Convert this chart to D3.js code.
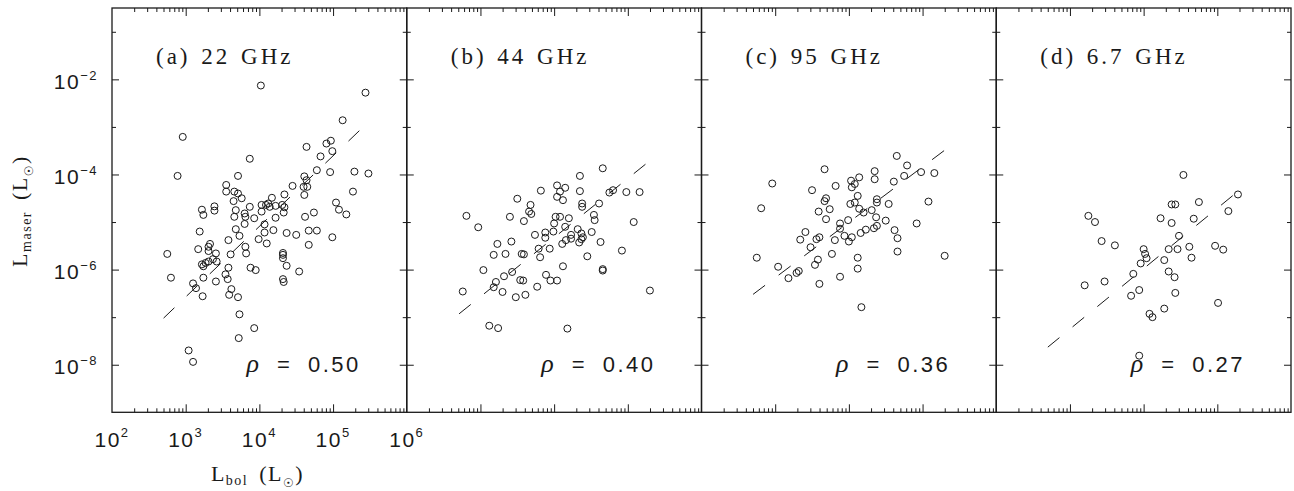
<!DOCTYPE html>
<html><head><meta charset="utf-8">
<script src="https://cdn.jsdelivr.net/npm/d3@7"></script>
<style>body{margin:0;background:#fff}svg{display:block}</style>
</head><body><svg id="c" width="1294" height="491"></svg>
<script>
// ---- data (log10 values) ----
const panelTitles = ["(a) 22 GHz", "(b) 44 GHz", "(c) 95 GHz", "(d) 6.7 GHz"];
const rhoLabels = ["0.50", "0.40", "0.36", "0.27"];
const xTickExps = [2, 3, 4, 5, 6];
const yTickExps = [-8, -6, -4, -2];

const logLbolA = [4.02,5.44,2.96,5.13,4.64,4.91,4.97,4.99,4.83,3.87,2.89,3.71,4.78,4.96,5.29,5.48,4.61,4.64,4.60,4.65,4.61,4.45,3.55,3.55,3.66,3.71,3.76,3.65,4.17,4.34,5.27,5.04,5.08,5.18,3.22,3.24,3.39,3.39,3.68,3.87,3.80,3.81,3.66,4.03,4.09,4.12,4.14,4.22,4.31,4.34,4.03,4.33,3.93,4.22,3.80,4.07,4.62,4.74,3.19,3.68,3.73,4.07,4.19,4.37,4.50,4.67,4.78,4.99,4.67,3.58,3.99,4.10,3.33,3.31,3.17,3.31,3.61,3.81,3.82,2.75,3.41,3.37,3.31,3.27,3.22,3.42,3.24,3.58,3.88,3.95,4.32,4.32,4.32,4.37,4.54,2.80,3.24,3.41,3.54,3.57,4.32,4.33,3.10,3.14,3.23,3.62,3.59,3.71,3.73,3.93,3.72,3.04,3.10];
const logLmaserA = [-2.13,-2.28,-3.21,-2.86,-3.42,-3.35,-3.29,-3.51,-3.62,-3.67,-4.03,-4.03,-3.91,-3.95,-3.94,-3.98,-4.04,-4.12,-4.26,-4.26,-4.43,-4.24,-4.22,-4.36,-4.36,-4.40,-4.50,-4.56,-4.49,-4.42,-4.36,-4.59,-4.74,-4.84,-4.74,-4.85,-4.67,-4.76,-4.75,-4.68,-4.82,-4.89,-4.89,-4.64,-4.64,-4.61,-4.68,-4.66,-4.64,-4.69,-4.78,-4.80,-4.92,-4.91,-5.04,-5.05,-4.89,-4.80,-5.20,-5.15,-5.29,-5.22,-5.17,-5.23,-5.27,-5.18,-5.18,-5.32,-5.48,-5.38,-5.36,-5.45,-5.46,-5.52,-5.57,-5.61,-5.68,-5.52,-5.66,-5.67,-5.66,-5.78,-5.83,-5.86,-5.89,-5.83,-5.93,-5.96,-5.96,-6.01,-5.65,-5.69,-5.76,-5.92,-6.04,-6.17,-6.17,-6.25,-6.10,-6.20,-6.20,-6.26,-6.29,-6.39,-6.56,-6.41,-6.53,-6.58,-6.94,-7.23,-7.44,-7.70,-7.94];

const logLbolB = [4.66,4.35,3.82,4.04,4.15,4.08,4.04,4.12,4.35,3.50,4.75,4.80,4.98,5.16,3.68,3.66,3.69,4.38,4.38,4.61,2.81,3.40,3.59,4.02,4.08,4.20,4.54,4.55,5.08,2.97,4.00,4.15,4.32,4.37,3.99,3.88,3.88,3.74,4.51,4.23,4.23,4.39,4.37,4.16,4.11,4.34,4.63,3.23,3.42,3.79,3.94,4.92,3.18,3.34,3.56,3.59,3.81,4.45,3.04,3.32,3.43,4.12,4.66,4.66,3.54,3.58,3.89,3.95,4.04,3.21,3.18,3.77,2.76,3.30,3.48,3.61,5.30,3.12,3.24,4.18];
const logLmaserB = [-3.87,-4.03,-4.34,-4.23,-4.28,-4.36,-4.47,-4.54,-4.35,-4.51,-4.38,-4.33,-4.37,-4.37,-4.64,-4.78,-4.83,-4.61,-4.68,-4.61,-4.87,-4.89,-4.98,-4.89,-4.89,-4.92,-4.85,-4.96,-5.00,-5.11,-5.03,-5.10,-5.15,-5.24,-5.20,-5.22,-5.33,-5.27,-5.21,-5.27,-5.35,-5.32,-5.36,-5.38,-5.46,-5.43,-5.42,-5.46,-5.41,-5.56,-5.56,-5.60,-5.69,-5.67,-5.67,-5.68,-5.74,-5.72,-6.01,-6.14,-6.05,-5.93,-5.99,-6.02,-6.22,-6.23,-6.11,-6.23,-6.23,-6.26,-6.37,-6.36,-6.46,-6.47,-6.58,-6.53,-6.44,-7.18,-7.23,-7.24];

const logLbolC = [4.65,4.79,4.98,5.16,4.75,3.67,4.35,4.35,4.14,4.03,4.08,4.04,4.61,2.96,3.50,3.82,4.12,3.69,3.67,4.38,4.38,4.54,5.08,4.02,4.08,2.81,3.74,3.59,4.14,4.20,4.31,3.69,4.37,3.99,4.50,4.92,3.88,3.88,4.38,4.34,4.23,4.16,4.62,4.66,3.41,3.34,3.56,3.60,3.81,3.94,4.04,4.00,3.48,2.75,3.77,4.12,4.66,5.30,3.58,3.54,3.04,3.32,3.29,3.18,4.12,3.88,3.60,4.17];
const logLmaserC = [-3.61,-3.81,-3.95,-3.97,-4.03,-3.89,-3.93,-4.10,-4.06,-4.13,-4.20,-4.27,-4.15,-4.19,-4.33,-4.24,-4.45,-4.50,-4.56,-4.52,-4.59,-4.62,-4.57,-4.62,-4.59,-4.71,-4.73,-4.78,-4.72,-4.80,-4.75,-4.94,-4.90,-4.96,-4.97,-5.03,-5.03,-5.14,-5.08,-5.13,-5.16,-5.23,-5.17,-5.34,-5.21,-5.37,-5.36,-5.32,-5.38,-5.29,-5.32,-5.41,-5.53,-5.75,-5.67,-5.75,-5.62,-5.71,-5.79,-5.90,-5.94,-6.03,-6.07,-6.18,-5.98,-6.15,-6.30,-6.79];

const logLbolD = [4.54,5.28,4.75,4.38,4.43,5.15,3.25,3.34,4.23,4.38,4.68,4.48,3.43,3.61,4.00,4.02,4.04,4.34,4.46,4.62,4.97,5.08,4.65,3.96,4.28,4.34,4.42,3.86,3.20,3.47,3.94,3.83,4.43,5.01,4.28,4.08,4.12,3.94];
const logLmaserD = [-4.01,-4.42,-4.58,-4.63,-4.63,-4.77,-4.87,-5.00,-4.92,-5.02,-4.93,-5.29,-5.40,-5.49,-5.57,-5.67,-5.76,-5.57,-5.57,-5.52,-5.50,-5.58,-5.75,-5.87,-5.80,-6.04,-6.16,-6.09,-6.33,-6.25,-6.43,-6.55,-6.49,-6.70,-6.82,-6.93,-7.00,-7.81];

// fitted relations: end points (log10)
const fitLogLbol = [[2.70, 5.39], [2.71, 5.30], [2.70, 5.36], [2.70, 5.26]];
const fitLogLmaser = [[-7.02, -3.03], [-6.93, -3.71], [-6.52, -3.42], [-7.63, -4.38]];

const seriesX = [logLbolA, logLbolB, logLbolC, logLbolD];
const seriesY = [logLmaserA, logLmaserB, logLmaserC, logLmaserD];

// ---- layout ----
const svg = d3.select("#c");
const left0 = 112, panelW = 294.75, plotTop = 8, plotBottom = 412.3;
const ink = "#1a1a1a";
const serif = "'Liberation Serif','Times New Roman',serif";
const sans = "'Liberation Sans',Arial,sans-serif";

const yScale = d3.scaleLog().domain([1e-9, Math.pow(10, -0.5)]).range([plotBottom, plotTop]);

const xMinor = [];
for (let e = 2; e < 6; e++) for (let m = 2; m <= 9; m++) xMinor.push(m * Math.pow(10, e));
const xMajor = [1e3, 1e4, 1e5];
const yMajor = yTickExps.map(e => Math.pow(10, e));
const yMinor = [-7, -5, -3, -1].map(e => Math.pow(10, e));

function styleAxis(g) {
  g.select(".domain").remove();
  g.selectAll("line").attr("stroke", ink).attr("stroke-width", 1);
}

panelTitles.forEach((title, i) => {
  const x0 = left0 + i * panelW, x1 = x0 + panelW;
  const xScale = d3.scaleLog().domain([1e2, 1e6]).range([x0, x1]);
  const g = svg.append("g");

  // ticks
  g.append("g").attr("transform", `translate(0,${plotBottom})`)
    .call(d3.axisBottom(xScale).tickValues(xMajor).tickSize(-8).tickFormat("")).call(styleAxis);
  g.append("g").attr("transform", `translate(0,${plotBottom})`)
    .call(d3.axisBottom(xScale).tickValues(xMinor).tickSize(-4).tickFormat("")).call(styleAxis);
  g.append("g").attr("transform", `translate(0,${plotTop})`)
    .call(d3.axisTop(xScale).tickValues(xMajor).tickSize(-8).tickFormat("")).call(styleAxis);
  g.append("g").attr("transform", `translate(0,${plotTop})`)
    .call(d3.axisTop(xScale).tickValues(xMinor).tickSize(-4).tickFormat("")).call(styleAxis);
  g.append("g").attr("transform", `translate(${x0},0)`)
    .call(d3.axisLeft(yScale).tickValues(yMajor).tickSize(-7).tickFormat("")).call(styleAxis);
  g.append("g").attr("transform", `translate(${x0},0)`)
    .call(d3.axisLeft(yScale).tickValues(yMinor).tickSize(-4).tickFormat("")).call(styleAxis);
  g.append("g").attr("transform", `translate(${x1},0)`)
    .call(d3.axisRight(yScale).tickValues(yMajor).tickSize(-7).tickFormat("")).call(styleAxis);
  g.append("g").attr("transform", `translate(${x1},0)`)
    .call(d3.axisRight(yScale).tickValues(yMinor).tickSize(-4).tickFormat("")).call(styleAxis);

  // frame
  g.append("rect").attr("x", x0).attr("y", plotTop).attr("width", panelW).attr("height", plotBottom - plotTop)
    .attr("fill", "none").attr("stroke", ink).attr("stroke-width", 1.3);

  // fit line
  const fx = fitLogLbol[i], fy = fitLogLmaser[i];
  g.append("line")
    .attr("x1", xScale(Math.pow(10, fx[0]))).attr("y1", yScale(Math.pow(10, fy[0])))
    .attr("x2", xScale(Math.pow(10, fx[1]))).attr("y2", yScale(Math.pow(10, fy[1])))
    .attr("stroke", ink).attr("stroke-width", 1).attr("stroke-dasharray", "15,17");

  // points
  const pts = seriesX[i].map((v, k) => [v, seriesY[i][k]]);
  g.selectAll("circle.pt").data(pts).join("circle").attr("class", "pt")
    .attr("cx", d => xScale(Math.pow(10, d[0])))
    .attr("cy", d => yScale(Math.pow(10, d[1])))
    .attr("r", 3.5).attr("fill", "none").attr("stroke", ink).attr("stroke-width", 1);

  // title
  g.append("text").attr("x", x0 + 44).attr("y", 64)
    .attr("font-family", serif).attr("font-size", 23)
    .attr("letter-spacing", 3).attr("word-spacing", 2).attr("fill", ink)
    .text(title);

  // rho
  const rt = g.append("text").attr("x", x1 - 46).attr("y", 372)
    .attr("text-anchor", "end").attr("font-family", sans).attr("font-size", 22)
    .attr("letter-spacing", 2.5).attr("word-spacing", 7).attr("fill", ink);
  rt.append("tspan").attr("font-family", serif).attr("font-style", "italic").attr("font-size", 26).text("ρ");
  rt.append("tspan").text(" = " + rhoLabels[i]);

  // tick labels on first panel only
  if (i === 0) {
    xTickExps.forEach(e => {
      const t = svg.append("text").attr("x", xScale(Math.pow(10, e))).attr("y", 446.7)
        .attr("text-anchor", "middle").attr("font-family", sans).attr("font-size", 21)
        .attr("letter-spacing", 1.5).attr("fill", ink);
      t.append("tspan").text("10");
      t.append("tspan").attr("dy", -10).attr("font-size", 13).text(String(e));
    });
    yTickExps.forEach(e => {
      const t = svg.append("text").attr("x", 98).attr("y", yScale(Math.pow(10, e)) + 9.7)
        .attr("text-anchor", "end").attr("font-family", sans).attr("font-size", 21)
        .attr("letter-spacing", 1.5).attr("fill", ink);
      t.append("tspan").text("10");
      t.append("tspan").attr("dy", -9).attr("font-size", 13).text("\u2212" + String(-e));
    });
  }
});

// axis titles
const xt = svg.append("text").attr("x", 257.5).attr("y", 481).attr("text-anchor", "middle")
  .attr("font-family", serif).attr("font-size", 22).attr("letter-spacing", 1.5).attr("word-spacing", 4).attr("fill", ink);
xt.append("tspan").text("L");
xt.append("tspan").attr("font-size", 14).attr("dy", 4).text("bol");
xt.append("tspan").attr("dy", -4).text(" (L");
xt.append("tspan").attr("font-family", "'DejaVu Sans',sans-serif").attr("font-size", 12).attr("dy", 6).text("\u2609");
xt.append("tspan").attr("dy", -6).text(")");

const yt = svg.append("text").attr("transform", "translate(27,211) rotate(-90)").attr("text-anchor", "middle")
  .attr("font-family", serif).attr("font-size", 22).attr("letter-spacing", 1.5).attr("word-spacing", 4).attr("fill", ink);
yt.append("tspan").text("L");
yt.append("tspan").attr("font-size", 14).attr("dy", 4).text("maser");
yt.append("tspan").attr("dy", -4).text(" (L");
yt.append("tspan").attr("font-family", "'DejaVu Sans',sans-serif").attr("font-size", 12).attr("dy", 6).text("\u2609");
yt.append("tspan").attr("dy", -6).text(")");
</script></body></html>
